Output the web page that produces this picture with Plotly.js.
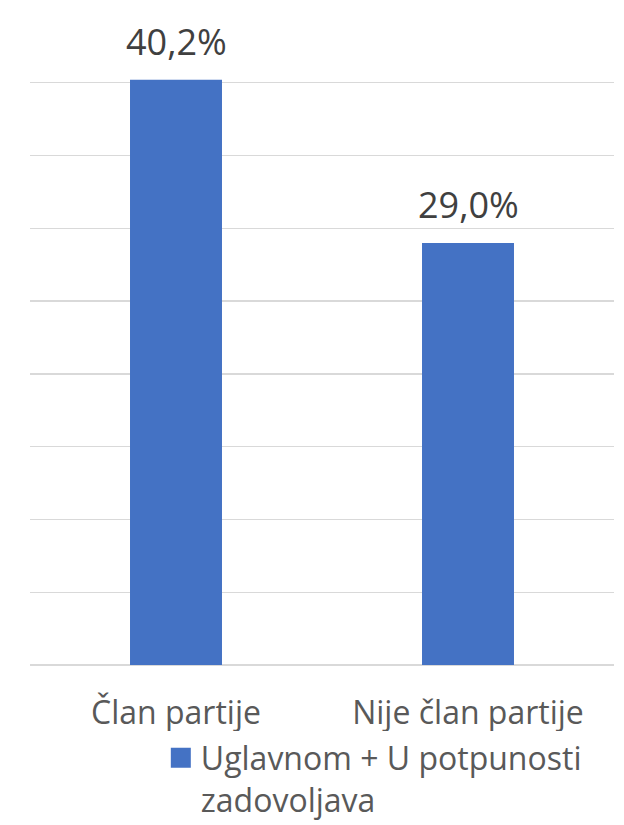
<!DOCTYPE html>
<html>
<head>
<meta charset="utf-8">
<script src="https://cdn.plot.ly/plotly-3.0.1.min.js"></script>
<style>html,body{margin:0;padding:0;background:#fff;}#chart{width:624px;height:825px;}</style>
</head>
<body>
<div id="chart"></div>
<script>
var categories = ["Član partije", "Nije član partije"];
var values = [40.2, 29.0];
var seriesName = "Uglavnom + U potpunosti<br>zadovoljava";
var yTicks = [0, 5, 10, 15, 20, 25, 30, 35, 40, 45];

var fontFamily = "'Open Sans', Lato, sans-serif";
var labelColor = "#404040";
var textColor = "#595959";

var trace = {
  type: "bar",
  x: categories,
  y: values,
  name: seriesName,
  marker: {color: "#4472C4"},
  hoverinfo: "none"
};

var annotations = categories.map(function (c, i) {
  return {
    x: c, y: values[i], xref: "x", yref: "y",
    text: values[i].toFixed(1).replace(".", ",") + "%",
    showarrow: false, yanchor: "bottom", yshift: 12,
    font: {family: fontFamily, size: 36, color: labelColor}
  };
});

var layout = {
  width: 624, height: 825,
  margin: {l: 30, r: 10, t: 10, b: 160, autoexpand: false},
  paper_bgcolor: "#fff", plot_bgcolor: "#fff",
  font: {family: fontFamily, color: textColor},
  separators: ", ",
  bargap: 0.685,
  showlegend: true,
  legend: {
    orientation: "h", x: 0.224, y: -0.1, xanchor: "left", yanchor: "top",
    valign: "top", font: {family: fontFamily, size: 32, color: textColor},
    itemwidth: 30
  },
  xaxis: {
    showgrid: false, showline: false, zeroline: false,
    ticks: "", ticklabelstandoff: 26,
    tickfont: {family: fontFamily, size: 32, color: textColor}
  },
  yaxis: {
    range: [0, 45], tickvals: yTicks, showticklabels: false,
    showgrid: true, gridcolor: "#d9d9d9", gridwidth: 1.3,
    zeroline: true, zerolinecolor: "#d9d9d9", zerolinewidth: 1.3, showline: false, ticks: ""
  },
  annotations: annotations
};

Plotly.newPlot("chart", [trace], layout, {staticPlot: true, displayModeBar: false}).then(function (gd) {
  var pts = gd.querySelectorAll(".legend .legendpoints path");
  pts.forEach(function (p) { p.setAttribute("d", "M10,10H-10V-10H10Z"); });
});
</script>
</body>
</html>
